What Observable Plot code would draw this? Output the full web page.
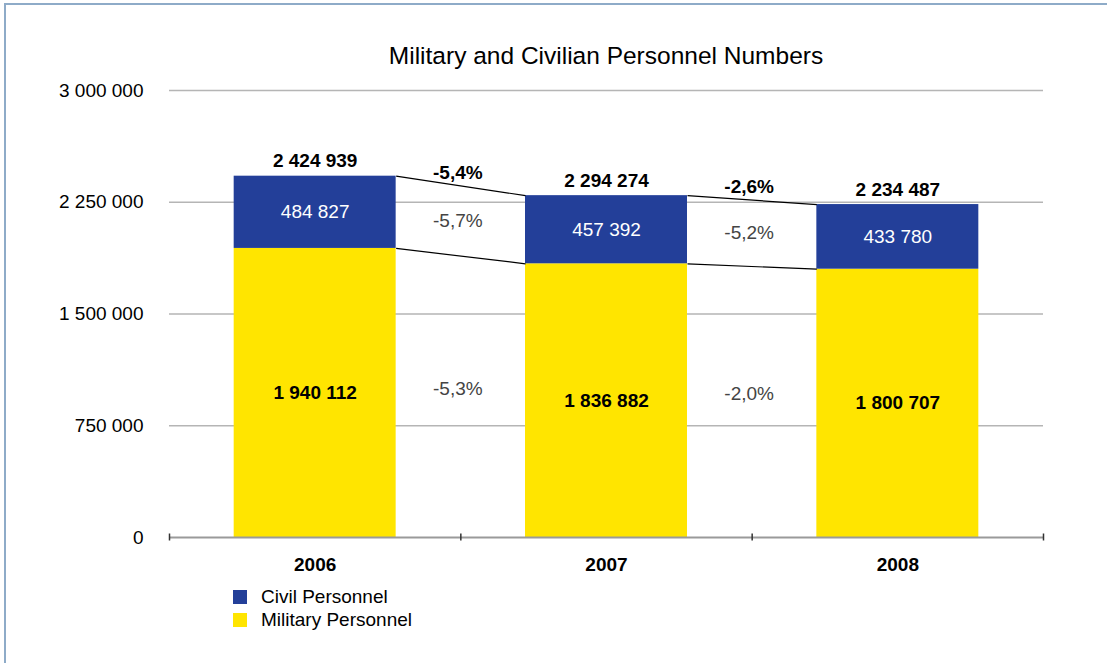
<!DOCTYPE html>
<html>
<head>
<meta charset="utf-8">
<script src="https://cdn.jsdelivr.net/npm/d3@7"></script>
<script src="https://cdn.jsdelivr.net/npm/@observablehq/plot@0.6"></script>
<style>
  html, body { margin: 0; padding: 0; background: #fff; }
  #wrap { position: relative; width: 1107px; height: 663px; overflow: hidden; background: #fff;
          font-family: "Liberation Sans", Arial, Helvetica, sans-serif; color: #000; }
  #frame { position: absolute; left: 4px; top: 3px; right: -10px; bottom: -10px;
           border-top: 2px solid #8eabc8; border-left: 2px solid #8eabc8; }
  #title { position: absolute; left: 169px; width: 874px; top: 42px; text-align: center;
           font-size: 24.5px; line-height: 27px; }
  #chart { position: absolute; left: 0; top: 0; }
  #legend { position: absolute; left: 233px; top: 585px; font-size: 19px; }
  .item { display: flex; align-items: center; height: 23px; }
  .sw { width: 14px; height: 14px; margin-right: 14px; }
</style>
</head>
<body>
<div id="wrap">
  <div id="frame"></div>
  <div id="chart"></div>
  <div id="title">Military and Civilian Personnel Numbers</div>
  <div id="legend"></div>
</div>
<script>
// ---- data ----
const years = [2006, 2007, 2008];
const military = [1940112, 1836882, 1800707];
const civil = [484827, 457392, 433780];
const totals = [2424939, 2294274, 2234487];
const changeTotal = ["-5,4%", "-2,6%"];
const changeCivil = ["-5,7%", "-5,2%"];
const changeMilitary = ["-5,3%", "-2,0%"];
const yTicks = [0, 750000, 1500000, 2250000, 3000000];
const seriesNames = ["Civil Personnel", "Military Personnel"];

// ---- styling ----
const BLUE = "#233f99";
const YELLOW = "#ffe500";
const HALF = 0.278; // half bar width, in years

const fmt = d3.format(",");
const num = n => fmt(n).replace(/,/g, " ");

const rows = years.map((y, i) => ({year: y, military: military[i], civil: civil[i], total: totals[i]}));
const pairs = years.slice(0, -1).map((y, i) => ({
  a: y, b: years[i + 1],
  t0: totals[i], t1: totals[i + 1],
  m0: military[i], m1: military[i + 1],
  ct: changeTotal[i], cc: changeCivil[i], cm: changeMilitary[i]
}));
const boundaries = [years[0] - 0.5, ...years.map(y => y + 0.5)];

const chart = Plot.plot({
  width: 1107,
  height: 600,
  marginTop: 90,
  marginBottom: 63,
  marginLeft: 169,
  marginRight: 64,
  style: {fontFamily: "'Liberation Sans', Arial, Helvetica, sans-serif", fontSize: "19px", color: "#000", background: "transparent", overflow: "visible"},
  x: {domain: [years[0] - 0.5, years[years.length - 1] + 0.5], axis: null},
  y: {domain: [0, 3000000], axis: null},
  marks: [
    Plot.gridY(yTicks.slice(1), {stroke: "#b5b5b5", strokeOpacity: 1, strokeWidth: 1.5}),
    Plot.rect(rows, {x1: d => d.year - HALF, x2: d => d.year + HALF, y1: 0, y2: "military", fill: YELLOW}),
    Plot.rect(rows, {x1: d => d.year - HALF, x2: d => d.year + HALF, y1: "military", y2: "total", fill: BLUE}),
    Plot.link(pairs, {x1: d => d.a + HALF, y1: "t0", x2: d => d.b - HALF, y2: "t1", stroke: "#000", strokeWidth: 1.2}),
    Plot.link(pairs, {x1: d => d.a + HALF, y1: "m0", x2: d => d.b - HALF, y2: "m1", stroke: "#000", strokeWidth: 1.2}),
    Plot.ruleY([0], {stroke: "#9a9a9a", strokeWidth: 2}),
    Plot.ruleX(boundaries, {x: d => d, y1: 0, y2: 0, insetTop: -3.5, insetBottom: -3.5, stroke: "#333", strokeWidth: 1.5}),
    Plot.axisY({ticks: yTicks, tickSize: 0, tickPadding: 26, tickFormat: num, fill: "#000"}),
    Plot.text(years, {x: d => d, frameAnchor: "bottom", dy: 33, text: d => String(d), fontWeight: "bold", fill: "#000"}),
    Plot.text(rows, {x: "year", y: "total", text: d => num(d.total), dy: -15, fontWeight: "bold", fill: "#000"}),
    Plot.text(rows, {x: "year", y: d => (d.military + d.total) / 2, text: d => num(d.civil), fill: "#fff"}),
    Plot.text(rows, {x: "year", y: d => d.military / 2, text: d => num(d.military), fontWeight: "bold", fill: "#000"}),
    Plot.text(pairs, {x: d => (d.a + d.b) / 2, y: d => (d.t0 + d.t1) / 2, text: "ct", dy: -13, dx: -3, fontWeight: "bold", fill: "#000"}),
    Plot.text(pairs, {x: d => (d.a + d.b) / 2, y: d => ((d.t0 + d.t1) / 2 + (d.m0 + d.m1) / 2) / 2, text: "cc", dx: -3, fill: "#444"}),
    Plot.text(pairs, {x: d => (d.a + d.b) / 2, y: d => (d.m0 + d.m1) / 4, text: "cm", dx: -3, dy: -8, fill: "#444"})
  ]
});
document.getElementById("chart").appendChild(chart);

const legend = document.getElementById("legend");
[BLUE, YELLOW].forEach((c, i) => {
  const item = document.createElement("div");
  item.className = "item";
  const sw = document.createElement("div");
  sw.className = "sw";
  sw.style.background = c;
  const t = document.createElement("span");
  t.textContent = seriesNames[i];
  item.appendChild(sw);
  item.appendChild(t);
  legend.appendChild(item);
});
</script>
</body>
</html>
